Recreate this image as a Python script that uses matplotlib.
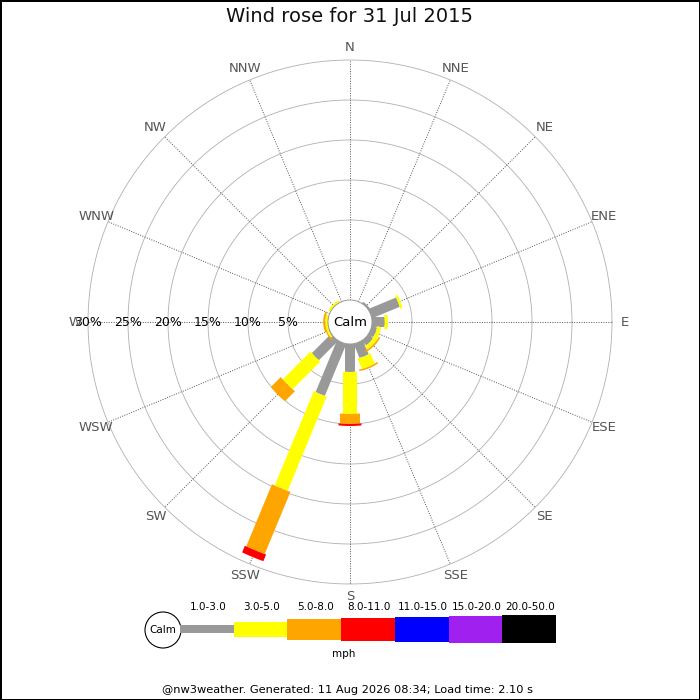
import matplotlib
matplotlib.use("Agg")
import matplotlib.pyplot as plt
from matplotlib.patches import Polygon, Circle, Rectangle
import numpy as np

# --- data ---
directions = ['N', 'NNE', 'NE', 'ENE', 'E', 'ESE', 'SE', 'SSE',
              'S', 'SSW', 'SW', 'WSW', 'W', 'WNW', 'NW', 'NNW']
speed_bins = ['1.0-3.0', '3.0-5.0', '5.0-8.0', '8.0-11.0',
              '11.0-15.0', '15.0-20.0', '20.0-50.0']
bin_colors = ['#999999', '#ffff00', '#ffa500', '#ff0000',
              '#0000ff', '#a020f0', '#000000']

# percent of time per direction, one list per speed bin
pct_1_3 = [0, 0, 0.25, 3.75, 1.6, 0.7, 0.8, 1.9, 3.5, 7.0, 3.4, 0.1, 0, 0, 0, 0]
pct_3_5 = [0, 0, 0, 0.3, 0.4, 0.5, 0.5, 1.4, 5.25, 12.75, 4.9, 0.25, 0.35, 0, 0.3, 0]
pct_5_8 = [0, 0, 0, 0, 0, 0, 0.2, 0.2, 1.25, 8.4, 1.75, 0.15, 0.25, 0, 0, 0]
pct_8_11 = [0, 0, 0, 0, 0, 0, 0, 0, 0.25, 0.9, 0, 0, 0, 0, 0, 0]
pct_11_15 = [0] * 16
pct_15_20 = [0] * 16
pct_20_50 = [0] * 16

ring_pcts = [5, 10, 15, 20, 25, 30]
title = 'Wind rose for 31 Jul 2015'
footer = '@nw3weather. Generated: 11 Aug 2026 08:34; Load time: 2.10 s'

# --- layout (1 unit = 1 percent = 8 px) ---
PX = 8.0
calm_r = 22 / PX
bar_w = np.array([10, 14, 20, 23, 25, 27, 28]) / PX
cx_px, cy_px = 350, 322

fig = plt.figure(figsize=(7, 7), dpi=100, linewidth=1, edgecolor='black')
ax = fig.add_axes([0, 0, 1, 1])
ax.set_xlim(-cx_px / PX, (700 - cx_px) / PX)
ax.set_ylim(-(700 - cy_px) / PX, cy_px / PX)
ax.set_aspect('equal')
ax.axis('off')

outer = calm_r + ring_pcts[-1]
th = np.linspace(0, 2 * np.pi, 400)
for p in ring_pcts:
    r = calm_r + p
    ax.plot(r * np.cos(th), r * np.sin(th), color='#b0b0b0', lw=0.6, zorder=1)
    ax.text(-r, 0, f'{p}%', ha='center', va='center', fontsize=9, zorder=6)

for i, d in enumerate(directions):
    a = np.deg2rad(i * 22.5)
    ux, uy = np.sin(a), np.cos(a)
    ax.plot([calm_r * ux, outer * ux], [calm_r * uy, outer * uy],
            color='#555555', lw=0.7, ls=(0, (1, 1.5)), zorder=1)
    lr = outer + 1.6
    ax.text(lr * ux, lr * uy, d, ha='center', va='center',
            fontsize=9.5, color='#555555', zorder=6)


def segment(bearing, r1, r2, w):
    a = np.deg2rad(bearing)
    u = np.array([np.sin(a), np.cos(a)])
    p = np.array([np.cos(a), -np.sin(a)])
    s = np.linspace(-w / 2, w / 2, 30)
    t_out = np.sqrt(r2 ** 2 - s ** 2)
    t_in = np.sqrt(r1 ** 2 - s ** 2)
    pts_out = np.outer(s, p) + np.outer(t_out, u)
    pts_in = (np.outer(s, p) + np.outer(t_in, u))[::-1]
    return np.vstack([pts_out, pts_in])


all_bins = [pct_1_3, pct_3_5, pct_5_8, pct_8_11, pct_11_15, pct_15_20, pct_20_50]
for i in range(len(directions)):
    r = calm_r
    for b, vals in enumerate(all_bins):
        v = vals[i]
        if v <= 0:
            continue
        poly = segment(i * 22.5, r, r + v, bar_w[b])
        ax.add_patch(Polygon(poly, closed=True, facecolor=bin_colors[b],
                             edgecolor='none', zorder=3 + b * 0.01))
        r += v

ax.add_patch(Circle((0, 0), calm_r, facecolor='white', edgecolor='#999999',
                    lw=0.7, zorder=4))
ax.text(0, 0, 'Calm', ha='center', va='center', fontsize=9.5, zorder=6)

# --- title, legend, footer in pixel coords ---
lg = fig.add_axes([0, 0, 1, 1])
lg.set_xlim(0, 700)
lg.set_ylim(700, 0)
lg.axis('off')
lg.patch.set_alpha(0)

lg.text(350, 17, title, ha='center', va='center', fontsize=14, color='#111111')

leg_h = [8, 15, 21, 23, 25, 27, 28]
x0, bw, yc = 180, 53.7, 629
lg.add_patch(Circle((163, 630), 18, facecolor='white', edgecolor='black', lw=0.8))
lg.text(163, 630, 'Calm', ha='center', va='center', fontsize=7.5)
for b, lab in enumerate(speed_bins):
    lg.add_patch(Rectangle((x0 + b * bw, yc - leg_h[b] / 2), bw, leg_h[b],
                           facecolor=bin_colors[b], edgecolor='none'))
    lg.text(x0 + (b + 0.5) * bw + 1, 607, lab, ha='center', va='center', fontsize=7.5)
lg.text(344, 654, 'mph', ha='center', va='center', fontsize=7.5)
lg.text(348, 690, footer, ha='center', va='center', fontsize=8.2)

fig.savefig('out.png', dpi=100, edgecolor=fig.get_edgecolor())
